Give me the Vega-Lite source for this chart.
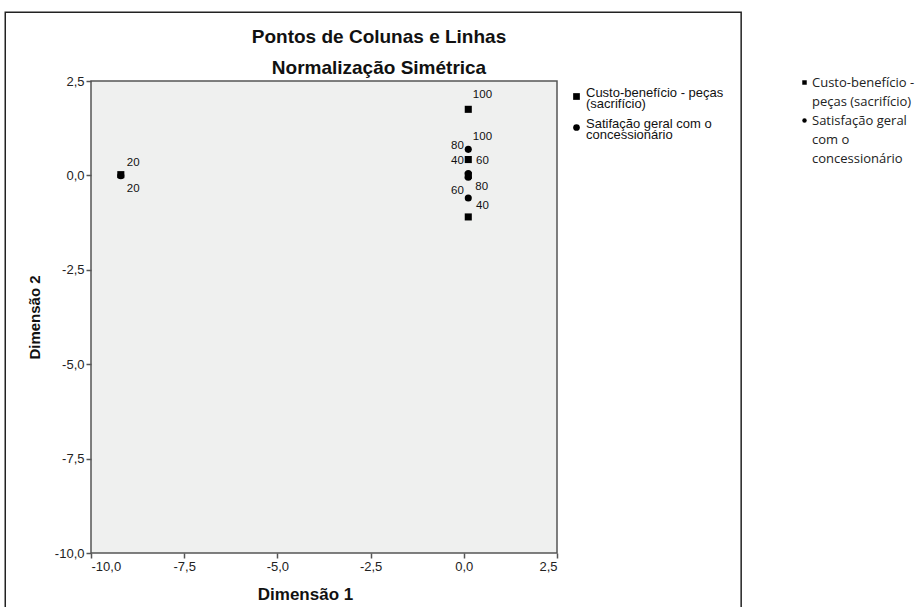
{
  "$schema": "https://vega.github.io/schema/vega-lite/v6.json",
  "width": 466,
  "height": 472,
  "autosize": {"type": "none"},
  "padding": {"left": 91, "top": 81, "right": 365, "bottom": 54},
  "background": "white",
  "title": {
    "text": ["Pontos de Colunas e Linhas", "Normalização Simétrica"],
    "font": "Liberation Sans",
    "fontSize": 19,
    "fontWeight": "bold",
    "lineHeight": 31,
    "anchor": "middle",
    "dx": 55,
    "offset": -66,
    "color": "#111"
  },
  "config": {
    "view": {"fill": "#eff0ef", "stroke": "#555", "strokeWidth": 1.5},
    "style": {"guide-label": {"lineHeight": 11}},
    "axis": {
      "domain": false,
      "grid": false,
      "ticks": true,
      "tickColor": "#555",
      "tickSize": 5,
      "tickWidth": 1.5,
      "labelFont": "Liberation Sans",
      "labelFontSize": 13,
      "labelColor": "#222",
      "titleFont": "Liberation Sans",
      "titleFontSize": 16,
      "titleFontWeight": "bold",
      "titleColor": "#111"
    },
    "legend": {"padding": 0}
  },
  "datasets": {
    "pontos": [
      {"serie": "Custo-benefício - peças (sacrifício)", "cat": "20", "d1": -9.2, "d2": 0.02},
      {"serie": "Satisfação geral com o concessionário", "cat": "20", "d1": -9.2, "d2": -0.01},
      {"serie": "Custo-benefício - peças (sacrifício)", "cat": "100", "d1": 0.12, "d2": 1.75},
      {"serie": "Satisfação geral com o concessionário", "cat": "100", "d1": 0.12, "d2": 0.69},
      {"serie": "Custo-benefício - peças (sacrifício)", "cat": "60", "d1": 0.12, "d2": 0.42},
      {"serie": "Satisfação geral com o concessionário", "cat": "40", "d1": 0.12, "d2": 0.05},
      {"serie": "Custo-benefício - peças (sacrifício)", "cat": "80", "d1": 0.12, "d2": 0.0},
      {"serie": "Satisfação geral com o concessionário", "cat": "80", "d1": 0.12, "d2": -0.05},
      {"serie": "Satisfação geral com o concessionário", "cat": "60", "d1": 0.12, "d2": -0.6},
      {"serie": "Custo-benefício - peças (sacrifício)", "cat": "40", "d1": 0.12, "d2": -1.1}
    ],
    "rotulos": [
      {"texto": "100", "d1": 0.5, "d2": 2.12},
      {"texto": "100", "d1": 0.5, "d2": 1.03},
      {"texto": "80", "d1": -0.17, "d2": 0.77},
      {"texto": "40", "d1": -0.17, "d2": 0.37},
      {"texto": "60", "d1": 0.5, "d2": 0.37},
      {"texto": "80", "d1": 0.48, "d2": -0.3},
      {"texto": "60", "d1": -0.17, "d2": -0.42},
      {"texto": "40", "d1": 0.5, "d2": -0.8},
      {"texto": "20", "d1": -8.87, "d2": 0.32},
      {"texto": "20", "d1": -8.87, "d2": -0.35}
    ]
  },
  "resolve": {"scale": {"shape": "independent"}, "legend": {"shape": "independent"}},
  "layer": [
    {
      "data": {"values": [{}]},
      "mark": {"type": "rect", "filled": false, "stroke": "#222", "strokeWidth": 1.5, "clip": false},
      "encoding": {
        "x": {"datum": -12.3, "type": "quantitative", "scale": {"domain": [-10, 2.5], "nice": false, "zero": false}},
        "x2": {"datum": 7.44},
        "y": {"datum": 4.32, "type": "quantitative", "scale": {"domain": [-10, 2.5], "nice": false, "zero": false}},
        "y2": {"datum": -12}
      }
    },
    {
      "data": {"name": "pontos"},
      "mark": {"type": "point", "filled": true, "color": "black", "opacity": 1, "size": 50},
      "encoding": {
        "x": {
          "field": "d1", "type": "quantitative",
          "scale": {"domain": [-10, 2.5], "nice": false, "zero": false},
          "axis": {
            "title": "Dimensão 1",
            "values": [-10, -7.5, -5, -2.5, 0, 2.5],
            "labelExpr": "replace(replace(format(datum.value, '.1f'), '.', ','), '−', '-')",
            "labelPadding": 2,
            "titlePadding": 13,
            "titleFontSize": 17,
            "titleX": 214
          }
        },
        "y": {
          "field": "d2", "type": "quantitative",
          "scale": {"domain": [-10, 2.5], "nice": false, "zero": false},
          "axis": {
            "title": "Dimensão 2",
            "values": [-10, -7.5, -5, -2.5, 0, 2.5],
            "labelExpr": "replace(replace(format(datum.value, '.1f'), '.', ','), '−', '-')",
            "labelPadding": 2,
            "titlePadding": 12,
            "titleFontSize": 15
          }
        },
        "shape": {
          "field": "serie", "type": "nominal",
          "scale": {"domain": ["Custo-benefício - peças (sacrifício)", "Satisfação geral com o concessionário"], "range": ["square", "circle"]},
          "legend": {
            "title": null,
            "orient": "none",
            "legendX": 479,
            "legendY": 9,
            "symbolSize": 45,
            "symbolFillColor": "black",
            "symbolStrokeWidth": 0,
            "labelFont": "Liberation Sans",
            "labelFontSize": 13,
            "labelColor": "#111",
            "labelBaseline": "alphabetic",
            "labelOffset": 3,
            "rowPadding": 6,
            "labelLimit": 300,
            "labelExpr": "datum.label == 'Custo-benefício - peças (sacrifício)' ? ['Custo-benefício - peças', '(sacrifício)'] : ['Satifação geral com o', 'concessionário']"
          }
        }
      }
    },
    {
      "data": {"name": "pontos"},
      "mark": {"type": "point", "filled": true, "color": "black", "opacity": 0},
      "encoding": {
        "x": {"field": "d1", "type": "quantitative"},
        "y": {"field": "d2", "type": "quantitative"},
        "shape": {
          "field": "serie", "type": "nominal",
          "scale": {
            "domain": ["Custo-benefício - peças (sacrifício)", "Custo-benefício (linha 2)", "Satisfação geral com o concessionário", "Satisfação (linha 2)", "Satisfação (linha 3)"],
            "range": ["square", "M0,0", "circle", "M0,0", "M0,0"]
          },
          "legend": {
            "title": null,
            "orient": "none",
            "legendX": 707,
            "legendY": -5,
            "symbolSize": 20,
            "symbolOpacity": 1,
            "symbolFillColor": "black",
            "symbolStrokeWidth": 0,
            "labelFont": "Open Sans",
            "labelFontSize": 13,
            "labelColor": "#222",
            "labelOffset": 1,
            "rowPadding": 5,
            "labelLimit": 300,
            "labelExpr": "datum.label == 'Custo-benefício - peças (sacrifício)' ? 'Custo-benefício -' : datum.label == 'Custo-benefício (linha 2)' ? 'peças (sacrifício)' : datum.label == 'Satisfação geral com o concessionário' ? 'Satisfação geral' : datum.label == 'Satisfação (linha 2)' ? 'com o' : 'concessionário'"
          }
        }
      }
    },
    {
      "data": {"name": "rotulos"},
      "mark": {"type": "text", "font": "Liberation Sans", "fontSize": 11.5, "color": "#111", "align": "center", "baseline": "middle"},
      "encoding": {
        "x": {"field": "d1", "type": "quantitative"},
        "y": {"field": "d2", "type": "quantitative"},
        "text": {"field": "texto"}
      }
    }
  ]
}
